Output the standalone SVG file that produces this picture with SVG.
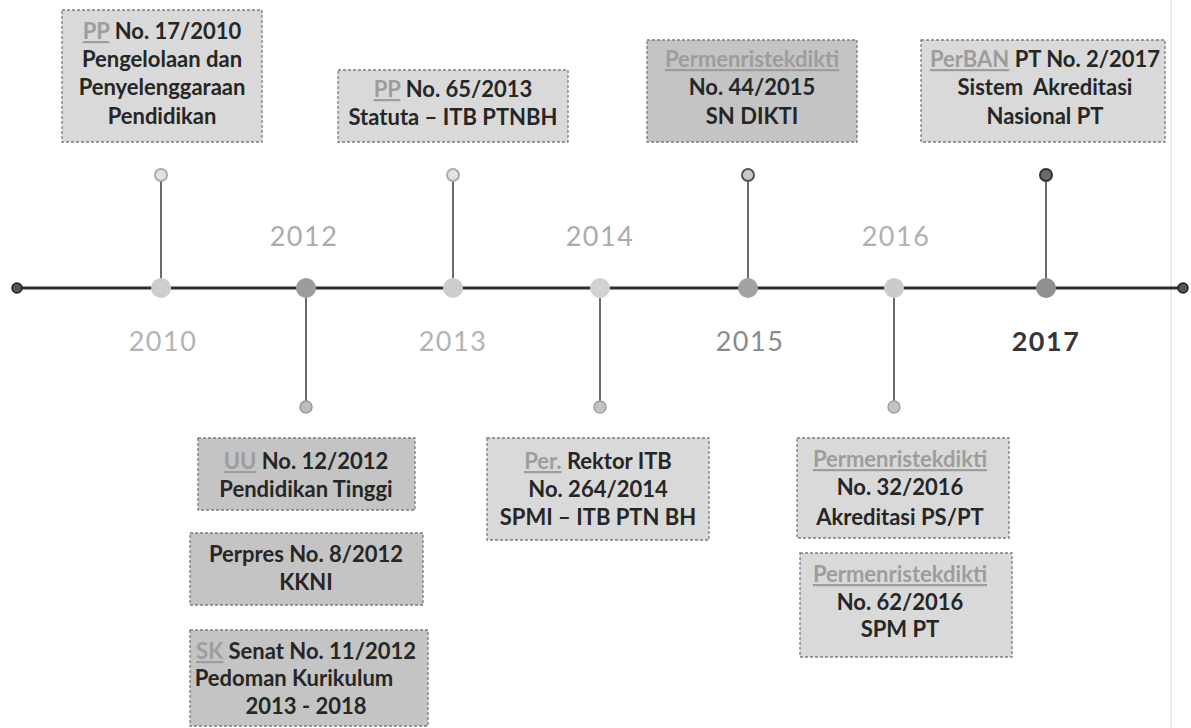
<svg xmlns="http://www.w3.org/2000/svg" width="1191" height="728" viewBox="0 0 1191 728">
<style>
.box{stroke:#7c7c7c;stroke-width:1.3;stroke-dasharray:3 2}
.lt{fill:#d9d9d9}
.dk{fill:#c4c4c4}
.t{font-family:Lato,"Open Sans","Liberation Sans",sans-serif;font-weight:700;font-size:22px;fill:#262626;text-anchor:middle}
.p{fill:#9d9d9d;text-decoration:underline}
.yr{font-family:Lato,"Open Sans","Liberation Sans",sans-serif;font-size:27px;text-anchor:middle;letter-spacing:1.5px}
.stem{stroke:#3a3a3a;stroke-width:1.5}
</style>
<rect width="1191" height="728" fill="#ffffff"/>
<line x1="1171" y1="0" x2="1171" y2="728" stroke="#ececec" stroke-width="2"/>
<g id="connectors">
<line x1="17" y1="288" x2="1183" y2="288" stroke="#2e2e2e" stroke-width="3"/>
<line class="stem" x1="161" y1="175" x2="161" y2="288"/>
<line class="stem" x1="453" y1="175" x2="453" y2="288"/>
<line class="stem" x1="748" y1="175" x2="748" y2="288"/>
<line class="stem" x1="1046" y1="175" x2="1046" y2="288"/>
<line class="stem" x1="306" y1="288" x2="306" y2="407"/>
<line class="stem" x1="600" y1="288" x2="600" y2="407"/>
<line class="stem" x1="894" y1="288" x2="894" y2="407"/>
<circle cx="17" cy="288" r="5" fill="#555" stroke="#222" stroke-width="1.5"/>
<circle cx="1183" cy="288" r="5" fill="#555" stroke="#222" stroke-width="1.5"/>
<circle cx="161" cy="175" r="6" fill="#e2e2e2" stroke="#ababab" stroke-width="2"/>
<circle cx="453" cy="175" r="6" fill="#e2e2e2" stroke="#ababab" stroke-width="2"/>
<circle cx="748" cy="175" r="6" fill="#c8c8c8" stroke="#555" stroke-width="2"/>
<circle cx="1046" cy="175" r="6" fill="#6a6a6a" stroke="#333" stroke-width="2"/>
<circle cx="306" cy="407" r="6" fill="#bdbdbd" stroke="#999" stroke-width="1.5"/>
<circle cx="600" cy="407" r="6" fill="#c4c4c4" stroke="#a0a0a0" stroke-width="1.5"/>
<circle cx="894" cy="407" r="6" fill="#c4c4c4" stroke="#a0a0a0" stroke-width="1.5"/>
<circle cx="161" cy="288" r="10" fill="#cdcdcd"/>
<circle cx="306" cy="288" r="10" fill="#9c9c9c"/>
<circle cx="453" cy="288" r="10" fill="#cdcdcd"/>
<circle cx="600" cy="288" r="10" fill="#d2d2d2"/>
<circle cx="748" cy="288" r="10" fill="#a2a2a2"/>
<circle cx="894" cy="288" r="10" fill="#cbcbcb"/>
<circle cx="1046" cy="288" r="10" fill="#8f8f8f"/>
</g>
<g id="years">
<text class="yr" x="304" y="246" fill="#ababab">2012</text>
<text class="yr" x="600" y="246" fill="#ababab">2014</text>
<text class="yr" x="896" y="246" fill="#b0b0b0">2016</text>
<text class="yr" x="163" y="351" fill="#b3b3b3">2010</text>
<text class="yr" x="453" y="351" fill="#b3b3b3">2013</text>
<text class="yr" x="750" y="351" fill="#8a8a8a">2015</text>
<text class="yr" x="1046" y="351" fill="#363636" font-weight="700">2017</text>
</g>
<g id="n2010">
<rect class="box lt" x="62" y="10" width="200" height="132"/>
<text class="t" x="162" y="39"><tspan class="p">PP</tspan> No. 17/2010</text>
<text class="t" x="162" y="67">Pengelolaan dan</text>
<text class="t" x="162" y="95">Penyelenggaraan</text>
<text class="t" x="162" y="124">Pendidikan</text>
</g>
<g id="n2013">
<rect class="box lt" x="338" y="70" width="230" height="72"/>
<text class="t" x="453" y="97"><tspan class="p">PP</tspan> No. 65/2013</text>
<text class="t" x="453" y="125">Statuta – ITB PTNBH</text>
</g>
<g id="n2015">
<rect class="box dk" x="647" y="40" width="210" height="102"/>
<text class="t" x="752" y="67"><tspan class="p">Permenristekdikti</tspan></text>
<text class="t" x="752" y="95">No. 44/2015</text>
<text class="t" x="752" y="124">SN DIKTI</text>
</g>
<g id="n2017">
<rect class="box lt" x="921" y="40" width="244" height="102"/>
<text class="t" x="1045" y="67"><tspan class="p">PerBAN</tspan> PT No. 2/2017</text>
<text class="t" x="1045" y="95" xml:space="preserve">Sistem  Akreditasi</text>
<text class="t" x="1045" y="124">Nasional PT</text>
</g>
<g id="n2012a">
<rect class="box dk" x="198" y="438" width="217" height="72"/>
<text class="t" x="306" y="469"><tspan class="p">UU</tspan> No. 12/2012</text>
<text class="t" x="306" y="497">Pendidikan Tinggi</text>
</g>
<g id="n2012b">
<rect class="box dk" x="190" y="533" width="233" height="72"/>
<text class="t" x="306" y="562">Perpres No. 8/2012</text>
<text class="t" x="306" y="590">KKNI</text>
</g>
<g id="n2012c">
<rect class="box dk" x="190" y="630" width="238" height="96"/>
<text class="t" x="306" y="659"><tspan class="p">SK</tspan> Senat No. 11/2012</text>
<text class="t" x="294" y="686">Pedoman Kurikulum</text>
<text class="t" x="306" y="714">2013 - 2018</text>
</g>
<g id="n2014">
<rect class="box lt" x="487" y="438" width="222" height="102"/>
<text class="t" x="598" y="469"><tspan class="p">Per.</tspan> Rektor ITB</text>
<text class="t" x="598" y="497">No. 264/2014</text>
<text class="t" x="598" y="525">SPMI – ITB PTN BH</text>
</g>
<g id="n2016a">
<rect class="box lt" x="797" y="438" width="212" height="100"/>
<text class="t" x="900" y="467"><tspan class="p">Permenristekdikti</tspan></text>
<text class="t" x="900" y="495">No. 32/2016</text>
<text class="t" x="900" y="525">Akreditasi PS/PT</text>
</g>
<g id="n2016b">
<rect class="box lt" x="800" y="553" width="212" height="104"/>
<text class="t" x="900" y="582"><tspan class="p">Permenristekdikti</tspan></text>
<text class="t" x="900" y="610">No. 62/2016</text>
<text class="t" x="900" y="637">SPM PT</text>
</g>
</svg>
